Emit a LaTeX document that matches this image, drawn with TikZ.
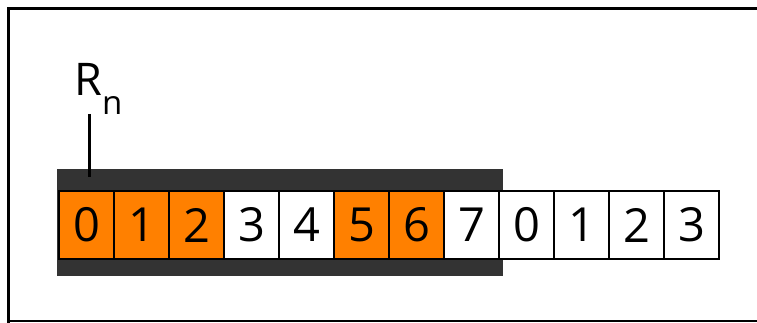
\documentclass[tikz,border=0pt]{standalone}
\usepackage{fontspec}
\setmainfont{Open Sans}
\usepackage{xcolor}
\definecolor{slotorange}{HTML}{FF8000}
\definecolor{windowgray}{HTML}{333333}

\begin{document}
\begin{tikzpicture}[x=1pt, y=-1pt,
    slot/.style={draw, fill=white, line width=2pt, minimum width=55pt,
      minimum height=68pt, inner sep=0pt, font=\fontsize{47}{47}\selectfont,
      anchor=north west},
    busy/.style={slot, fill=slotorange}]
  \useasboundingbox (0,0) rectangle (757,323);

  % frame, cut at the right
  \draw[line width=3pt] (757,8.5) -- (8.5,8.5) -- (8.5,323);
  \draw[line width=1.5pt] (8.5,321) -- (757,321);

  % receive window
  \fill[windowgray] (57,169) rectangle (503,276);

  % sequence slots
  \foreach \n/\lbl/\kind in {0/0/busy, 1/1/busy, 2/2/busy, 3/3/slot,
      4/4/slot, 5/5/busy, 6/6/busy, 7/7/slot, 8/0/slot, 9/1/slot,
      10/2/slot, 11/3/slot}
    \node[\kind] (s\n) at ({58+55*\n},190) {\lbl};

  % window pointer
  \node[font=\fontsize{45}{45}\selectfont, inner sep=0pt, anchor=base west]
    (Rn) at (74,96) {R\raisebox{-19pt}{\fontsize{33}{33}\selectfont n}};
  \coordinate (rtip) at (89,114);
  \coordinate (rfoot) at (89,177);
  \draw[line width=3pt] (rtip) -- (rfoot);
\end{tikzpicture}
\end{document}
